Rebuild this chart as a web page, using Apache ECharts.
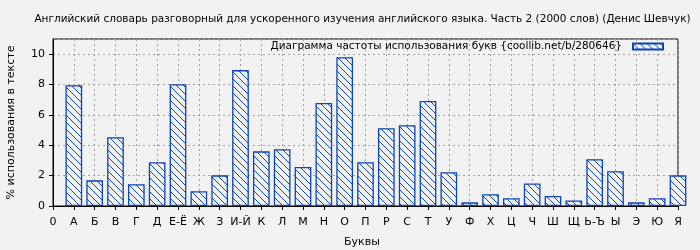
<!DOCTYPE html>
<html><head><meta charset="utf-8">
<script src="https://cdn.jsdelivr.net/npm/echarts@6/dist/echarts.min.js"></script>
<style>html,body{margin:0;padding:0;background:#f2f2f2}#c{width:700px;height:250px}</style>
</head><body><div id="c"></div>
<script>
const titleText = 'Английский словарь разговорный для ускоренного изучения английского языка. Часть 2 (2000 слов) (Денис Шевчук)';
const seriesName = 'Диаграмма частоты использования букв {coollib.net/b/280646}';
const xName = 'Буквы';
const yName = '% использования в тексте';
const tickLabels = ['0','А','Б','В','Г','Д','Е-Ё','Ж','З','И-Й','К','Л','М','Н','О','П','Р','С','Т','У','Ф','Х','Ц','Ч','Ш','Щ','Ь-Ъ','Ы','Э','Ю','Я'];
const letters = tickLabels.slice(1);
const values = [7.96,1.69,4.53,1.43,2.88,8.02,0.97,2.02,8.95,3.60,3.74,2.57,6.79,9.80,2.88,5.12,5.32,6.92,2.22,0.24,0.77,0.51,1.49,0.66,0.37,3.08,2.29,0.24,0.51,2.02];

const blue = '#0a46b4';
const pc = document.createElement('canvas');
pc.width = 7; pc.height = 7;
const g = pc.getContext('2d');
g.fillStyle = '#f2f2f2'; g.fillRect(0,0,7,7);
g.fillStyle = blue;
for (let i = 0; i < 7; i++) g.fillRect(i, i, 1, 1);

const chart = echarts.init(document.getElementById('c'), null, {renderer: 'canvas'});
const font = 'DejaVu Sans';
chart.setOption({
  backgroundColor: '#f2f2f2',
  animation: false,
  title: {
    text: titleText, left: 357.5, top: 9, textAlign: 'center',
    textStyle: {fontFamily: font, fontSize: 10.5, fontWeight: 'normal', color: '#000'}
  },
  legend: {
    right: 36, top: 41, padding: 0, align: 'right',
    itemWidth: 30, itemHeight: 6, icon: 'rect',
    textStyle: {fontFamily: font, fontSize: 10.5, color: '#000', padding: [0, 6, 0, 0]},
    data: [seriesName]
  },
  grid: {left: 53, right: 22, top: 39, bottom: 44, outerBoundsMode: 'none', containLabel: false, show: true, borderColor: '#000', borderWidth: 1, backgroundColor: 'transparent'},
  xAxis: {
    type: 'value', min: 0, max: 30, interval: 1,
    name: xName, nameLocation: 'middle', nameGap: 31,
    nameTextStyle: {fontFamily: font, fontSize: 11, color: '#000', padding: [0, 7, 0, 0]},
    axisLine: {lineStyle: {color: '#000'}},
    axisTick: {show: true, length: 4, lineStyle: {color: '#000'}},
    axisLabel: {fontFamily: font, fontSize: 11, color: '#000', margin: 11, formatter: v => tickLabels[Math.round(v)] ?? ''},
    splitLine: {show: true, lineStyle: {color: '#a0a0a0', type: [2, 3], width: 1}}
  },
  yAxis: {
    type: 'value', min: 0, max: 11, interval: 2,
    name: yName, nameLocation: 'middle', nameGap: 36, nameRotate: 90,
    nameTextStyle: {fontFamily: font, fontSize: 11, color: '#000'},
    axisLine: {lineStyle: {color: '#000'}},
    axisTick: {show: true, length: 4, lineStyle: {color: '#000'}},
    axisLabel: {fontFamily: font, fontSize: 11, color: '#000', margin: 8, showMaxLabel: false},
    splitLine: {show: true, lineStyle: {color: '#a0a0a0', type: [2, 3], width: 1}}
  },
  series: [{
    name: seriesName, type: 'bar', barWidth: 16.7, clip: true,
    data: values.map((v, i) => [i + 1, v]),
    itemStyle: {color: {image: pc, repeat: 'repeat'}, borderColor: blue, borderWidth: 1.3}
  }]
});
</script></body></html>
